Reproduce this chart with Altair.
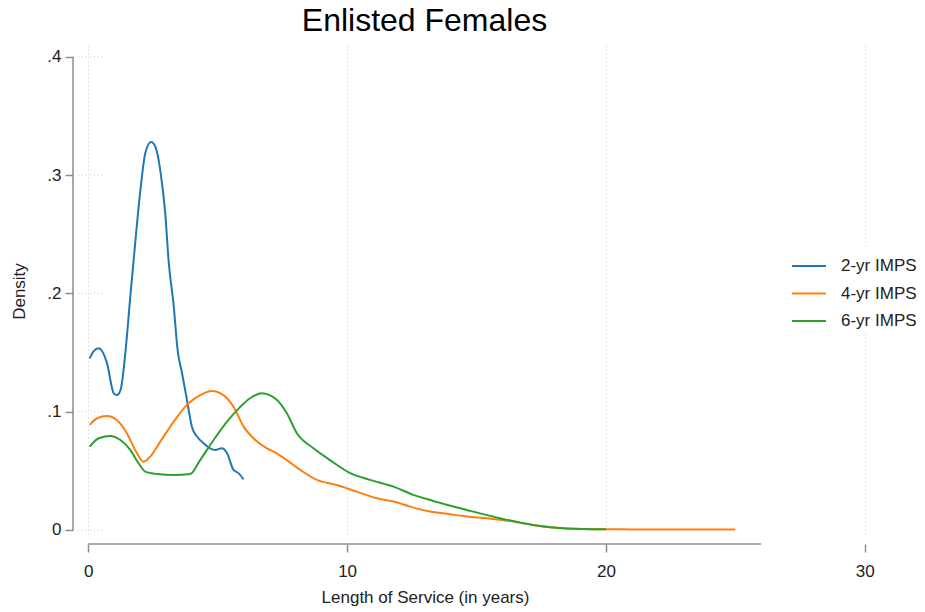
import altair as alt
import pandas as pd

series_names = ["2-yr IMPS", "4-yr IMPS", "6-yr IMPS"]
series_colors = ["#1f77b4", "#ff7f0e", "#2ca02c"]

blue_x = [0.05, 0.2, 0.4, 0.72, 0.98, 1.1, 1.24, 1.43, 1.62, 1.81, 2.0, 2.2, 2.42, 2.59, 2.78, 2.97, 3.1,
          3.3, 3.45, 3.62, 3.81, 4.0, 4.2, 4.45, 4.71, 4.9, 5.16, 5.36, 5.61, 5.8, 6.0]
blue_y = [0.145, 0.151, 0.1536, 0.141, 0.1155, 0.114, 0.118, 0.1496, 0.197, 0.2425, 0.285, 0.3185, 0.328,
          0.324, 0.304, 0.268, 0.228, 0.189, 0.152, 0.1325, 0.11, 0.0873, 0.079, 0.0733, 0.069, 0.0676,
          0.069, 0.0648, 0.0507, 0.048, 0.0428]

orange_x = [0.05, 0.34, 0.72, 1.1, 1.49, 1.81, 2.14, 2.39, 2.78, 3.3, 3.81, 4.32, 4.78, 5.22, 5.61, 6.0,
            6.38, 6.9, 7.28, 7.67, 8.19, 8.83, 9.6, 10.37, 11.15, 11.79, 12.43, 13.2, 13.98, 14.62, 15.4,
            16.2, 17.19, 17.97, 19.1, 20.0, 21.0, 22.0, 23.0, 24.0, 25.0]
orange_y = [0.0888, 0.0944, 0.0964, 0.093, 0.0817, 0.0676, 0.0577, 0.062, 0.0746, 0.0915, 0.1057, 0.114,
            0.1175, 0.114, 0.1042, 0.0873, 0.0775, 0.069, 0.0648, 0.059, 0.0507, 0.0423, 0.038, 0.0324,
            0.0268, 0.024, 0.0197, 0.0155, 0.0133, 0.0113, 0.0099, 0.0078, 0.0042, 0.002, 0.0008, 0.0006,
            0.0004, 0.0003, 0.0003, 0.0003, 0.0003]

green_x = [0.05, 0.4, 0.85, 1.24, 1.62, 1.94, 2.2, 2.65, 3.3, 3.94, 4.32, 4.84, 5.36, 5.87, 6.25, 6.7,
           7.28, 7.67, 8.06, 8.7, 9.34, 10.12, 10.89, 11.79, 12.56, 13.33, 14.62, 15.9, 17.19, 17.97,
           19.1, 20.0]
green_y = [0.0704, 0.0775, 0.0795, 0.076, 0.0676, 0.0564, 0.0493, 0.0473, 0.0465, 0.0473, 0.059, 0.076,
           0.0916, 0.104, 0.1113, 0.1155, 0.11, 0.0986, 0.0817, 0.069, 0.059, 0.048, 0.0423, 0.0366,
           0.0296, 0.0245, 0.0169, 0.0099, 0.0042, 0.002, 0.0008, 0.0006]

x_ticks = [0, 10, 20, 30]
y_ticks = [0, 0.1, 0.2, 0.3, 0.4]

rows = []
for name, xs, ys in zip(series_names, [blue_x, orange_x, green_x], [blue_y, orange_y, green_y]):
    for i, (a, b) in enumerate(zip(xs, ys)):
        rows.append({"series": name, "years": a, "density": b, "order": i})
df = pd.DataFrame(rows)

W, H = 797, 492
FONT = "Liberation Sans"
xscale = alt.Scale(domain=[-0.4, 30.4], nice=False, zero=False)
yscale = alt.Scale(domain=[-0.006, 0.41], nice=False, zero=False)

hgrid = alt.Chart(pd.DataFrame({"v": y_ticks})).mark_rule(
    color="#c8c8c8", strokeDash=[1, 3], strokeWidth=1
).encode(
    y=alt.Y("v:Q", scale=yscale),
    x=alt.value(0),
    x2=alt.datum(26.4),
)

xaxis_line = alt.Chart(pd.DataFrame({"a": [0]})).mark_rule(color="#8c8c8c", strokeWidth=1.5).encode(
    x=alt.datum(0, scale=xscale), x2=alt.datum(26), y=alt.value(H + 7)
)
yaxis_line = alt.Chart(pd.DataFrame({"a": [0]})).mark_rule(color="#8c8c8c", strokeWidth=1.5).encode(
    y=alt.datum(0, scale=yscale), y2=alt.datum(0.4), x=alt.value(-5)
)

lines = alt.Chart(df).mark_line(strokeWidth=2, interpolate="monotone").encode(
    x=alt.X(
        "years:Q", scale=xscale,
        axis=alt.Axis(
            values=x_ticks, title="Length of Service (in years)", domain=False, offset=7,
            tickSize=8, tickColor="#8c8c8c", tickWidth=1.5, grid=True, gridColor="#c8c8c8",
            gridDash=[1, 3], labelFontSize=17, labelPadding=11, labelColor="#222222",
            titleFontSize=17, titleFontWeight="normal", titleColor="#222222", titleX=347,
            titlePadding=10, labelFont=FONT, titleFont=FONT,
        ),
    ),
    y=alt.Y(
        "density:Q", scale=yscale,
        axis=alt.Axis(
            values=y_ticks, title="Density", domain=False, offset=5, tickSize=8,
            tickColor="#8c8c8c", tickWidth=1.5, grid=False, labelFontSize=17, labelPadding=4,
            labelColor="#222222", titleFontSize=17, titleFontWeight="normal", titleColor="#222222",
            titlePadding=18, labelFont=FONT, titleFont=FONT,
            labelExpr="datum.value == 0 ? '0' : replace(format(datum.value, '.1f'), '0.', '.')",
        ),
    ),
    color=alt.Color(
        "series:N", scale=alt.Scale(domain=series_names, range=series_colors),
        legend=alt.Legend(
            title=None, orient="none", legendX=711, legendY=201, symbolType="stroke",
            symbolSize=1156, symbolStrokeWidth=2, labelFontSize=17, labelFont=FONT,
            labelColor="#222222", labelOffset=14, rowPadding=1.5, fillColor="white",
            padding=2,
        ),
    ),
    detail="series:N",
    order="order:Q",
)

chart = alt.layer(hgrid, lines, xaxis_line, yaxis_line).properties(
    width=W, height=H,
    background="white",
    title=alt.TitleParams("Enlisted Females", fontSize=32, font=FONT, fontWeight="normal",
                          color="black", dx=-52, offset=7),
    autosize=alt.AutoSizeParams(type="none"),
    padding={"left": 70, "top": 37, "right": 42, "bottom": 75},
).configure_view(stroke=None, strokeWidth=0)

chart.save("out.html", embed_options={"renderer": "svg", "actions": False})
